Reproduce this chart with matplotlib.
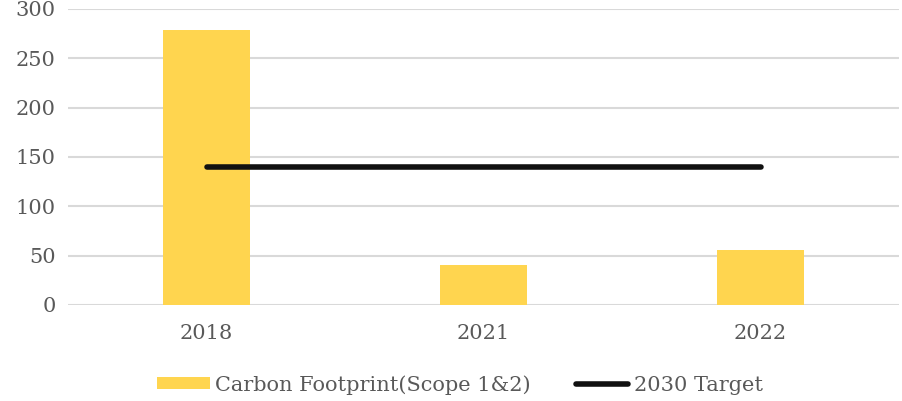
import matplotlib
matplotlib.use("Agg")
import matplotlib.pyplot as plt
import numpy as np

# ── data ──────────────────────────────────────────────────────────────
years = ["2018", "2021", "2022"]
footprint = [279, 41, 56]          # Carbon Footprint (Scope 1&2)
target_2030 = [140, 140, 140]      # 2030 Target
y_ticks = [0, 50, 100, 150, 200, 250, 300]

BAR_COLOR = "#FFD54F"
LINE_COLOR = "#111111"
TEXT_COLOR = "#595959"
GRID_COLOR = "#d9d9d9"

plt.rcParams["font.family"] = ["DejaVu Serif"]

fig = plt.figure(figsize=(9.02, 4.01), dpi=100)
ax = fig.add_axes([68 / 902, 96 / 401, (899 - 68) / 902, (392 - 96) / 401])

x = np.arange(len(years))
bars = ax.bar(x, footprint, width=0.314, color=BAR_COLOR, zorder=2,
              label="Carbon Footprint(Scope 1&2)")
line, = ax.plot(x, target_2030, color=LINE_COLOR, linewidth=4,
                solid_capstyle="round", zorder=3, label="2030 Target")

ax.set_xlim(-0.5, len(years) - 0.5)
ax.set_ylim(0, 300)
ax.set_yticks(y_ticks)
ax.set_xticks(x)
ax.set_xticklabels(years)

ax.grid(axis="y", color=GRID_COLOR, linewidth=1.5, zorder=0)
ax.set_axisbelow(True)
for s in ax.spines.values():
    s.set_visible(False)
ax.tick_params(length=0, colors=TEXT_COLOR, labelsize=15)
ax.tick_params(axis="y", pad=9)
ax.tick_params(axis="x", pad=14)

leg = fig.legend([bars, line], ["Carbon Footprint(Scope 1&2)", "2030 Target"],
                 loc="center", bbox_to_anchor=(0.51, 0.04),
                 ncol=2, frameon=False, fontsize=15,
                 handlelength=2.5, handleheight=0.5, handletextpad=0.25,
                 columnspacing=2.2)
for t in leg.get_texts():
    t.set_color(TEXT_COLOR)

fig.savefig("out.png", dpi=100)
